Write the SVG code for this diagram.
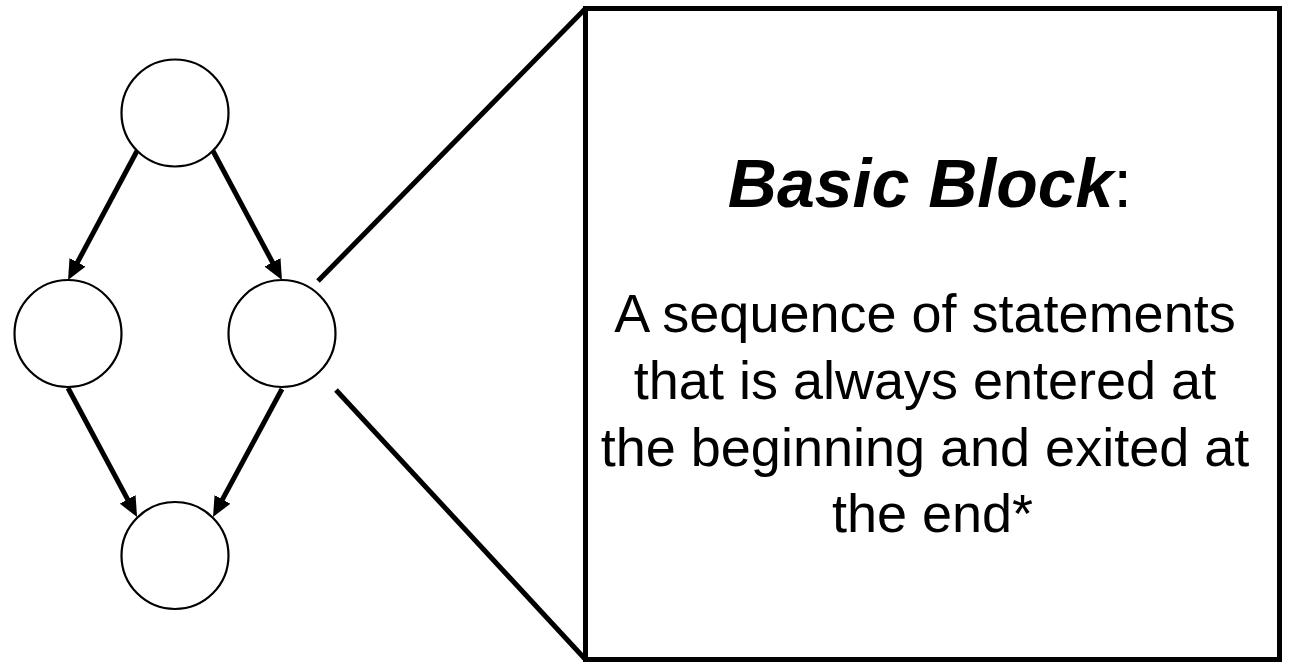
<svg xmlns="http://www.w3.org/2000/svg" width="1294" height="664" viewBox="0 0 1294 664">
  <style>
    .node { fill: #ffffff; stroke: #000000; stroke-width: 2.2; }
    .edge { stroke: #000000; stroke-width: 5; fill: none; }
    .zoom { stroke: #000000; stroke-width: 5; fill: none; }
    .box { fill: #ffffff; stroke: #000000; stroke-width: 5; }
    .title { font-family: "Liberation Sans", Arial, sans-serif; font-size: 68px; fill: #000000; }
    .body { font-family: "Liberation Sans", Arial, sans-serif; font-size: 54px; fill: #000000; }
  </style>
  <defs>
    <marker id="arrow" viewBox="0 0 20 18" markerWidth="20" markerHeight="18" refX="8" refY="9" orient="auto" markerUnits="userSpaceOnUse">
      <path d="M0,0 L20,9 L0,18 z" fill="#000000"/>
    </marker>
  </defs>

  <rect width="1294" height="664" fill="#ffffff"/>

  <!-- control-flow graph -->
  <g id="connectors">
    <line class="edge" x1="137" y1="151" x2="73.7" y2="269.4" marker-end="url(#arrow)"/>
    <line class="edge" x1="213" y1="151" x2="276.3" y2="269.4" marker-end="url(#arrow)"/>
    <line class="edge" x1="68" y1="388" x2="131.4" y2="506.4" marker-end="url(#arrow)"/>
    <line class="edge" x1="282" y1="389" x2="218.7" y2="506.4" marker-end="url(#arrow)"/>
  </g>
  <g id="node-top"><circle class="node" cx="175" cy="113" r="53.5"/></g>
  <g id="node-left"><circle class="node" cx="68" cy="333.5" r="53.5"/></g>
  <g id="node-right"><circle class="node" cx="282" cy="333.5" r="53.5"/></g>
  <g id="node-bottom"><circle class="node" cx="175" cy="555.5" r="53.5"/></g>

  <!-- magnification lines from the right node to the definition box -->
  <g id="zoom-lines">
    <line class="zoom" x1="318" y1="281" x2="585.5" y2="8.5"/>
    <line class="zoom" x1="336" y1="390" x2="585.5" y2="659.5"/>
  </g>

  <!-- definition box -->
  <g id="definition">
    <rect class="box" x="585.5" y="8.5" width="694" height="651"/>
    <text class="title" x="930" y="207" text-anchor="middle"><tspan font-weight="bold" font-style="italic">Basic Block</tspan>:</text>
    <text class="body" text-anchor="middle">
      <tspan x="932.5" y="332">A sequence of statements</tspan>
      <tspan x="932.5" y="399">that is always entered at</tspan>
      <tspan x="932.5" y="466">the beginning and exited at</tspan>
      <tspan x="932.5" y="532">the end*</tspan>
    </text>
  </g>
</svg>
